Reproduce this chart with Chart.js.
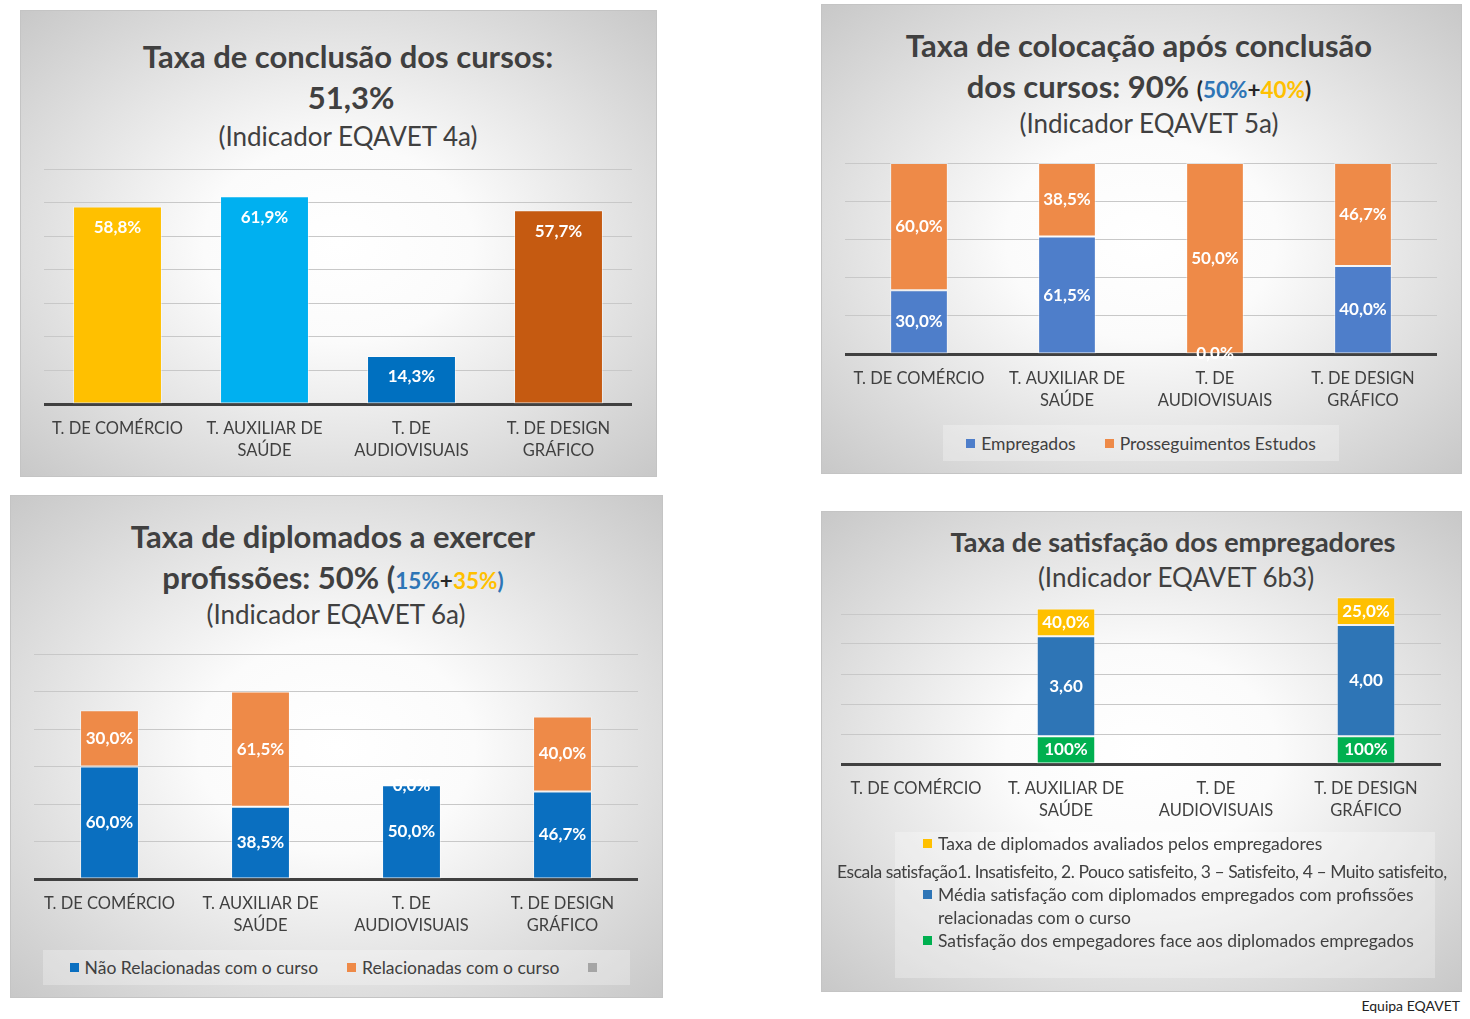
<!DOCTYPE html>
<html lang="pt">
<head>
<meta charset="utf-8">
<title>Indicadores EQAVET</title>
<script src="https://cdn.jsdelivr.net/npm/chart.js@4.4.1/dist/chart.umd.min.js"></script>
<style>
  html, body { margin: 0; padding: 0; background: #fff; }
  body { width: 1470px; height: 1019px; position: relative; overflow: hidden;
         font-family: Lato, "Open Sans", sans-serif; color: #404040; }
  .panel { position: absolute; box-sizing: border-box; border: 1px solid #c4c4c4;
           background: radial-gradient(ellipse farthest-corner at 50% 50%, #fff 0%, #fbfbfb 30%, #dedede 70%, #c8c8c8 100%); }
  .t { position: absolute; width: 800px; text-align: center; white-space: nowrap; line-height: 1; }
  .b { font-weight: 700; font-size: 31px; }
  .n { font-size: 26px; }
  .s { font-size: 22.5px; font-weight: 700; }
  .azul { color: #2E75B6; }
  .amarelo { color: #FFC000; }
  .preto { color: #262626; }
  canvas { position: absolute; }
  .legenda { position: absolute; box-sizing: border-box; background: rgba(255,255,255,0.28);
             font-size: 17.5px; line-height: 23px; color: #404040; }
  .linha { display: flex; justify-content: center; align-items: center; height: 100%; gap: 29px; }
  .item { display: flex; align-items: center; white-space: nowrap; }
  .qd { width: 9px; height: 9px; margin-right: 6px; flex: none; }
  .col .item { align-items: flex-start; white-space: normal; margin-left: 28px; width: 500px; }
  .col .item .qd { margin-top: 7px; }
  .col .item.nota { margin-left: -58px; width: auto; white-space: nowrap; margin-top: 5px; letter-spacing: -0.45px; }
  .rodape { position: absolute; right: 10px; top: 997px; font-size: 14px; color: #222; }
</style>
</head>
<body>

<div class="panel" style="left:20px; top:10px; width:637px; height:467px;"></div>
<div class="panel" style="left:821px; top:4px; width:641px; height:470px;"></div>
<div class="panel" style="left:10px; top:495px; width:653px; height:503px;"></div>
<div class="panel" style="left:821px; top:511px; width:641px; height:481px;"></div>

<div class="t b" style="left:-52px; top:41px;">Taxa de conclusão dos cursos:</div>
<div class="t b" style="left:-49px; top:82px;">51,3%</div>
<div class="t n" style="left:-52px; top:123px;">(Indicador EQAVET 4a)</div>

<div class="t b" style="left:739px; top:30px;">Taxa de colocação após conclusão</div>
<div class="t b" style="left:739px; top:71px;">dos cursos: 90% <span class="s preto">(<span class="azul">50%</span>+<span class="amarelo">40%</span>)</span></div>
<div class="t n" style="left:749px; top:110px;">(Indicador EQAVET 5a)</div>

<div class="t b" style="left:-67px; top:521px;">Taxa de diplomados a exercer</div>
<div class="t b" style="left:-67px; top:562px;">profissões: 50% (<span class="s azul">15%<span class="preto">+</span><span class="amarelo">35%</span>)</span></div>
<div class="t n" style="left:-64px; top:601px;">(Indicador EQAVET 6a)</div>

<div class="t b" style="left:773px; top:528px; font-size:27px;">Taxa de satisfação dos empregadores</div>
<div class="t n" style="left:776px; top:564px;">(Indicador EQAVET 6b3)</div>

<canvas id="c4a" width="588" height="310" style="left:44px; top:164px;"></canvas>
<canvas id="c5a" width="592" height="266" style="left:845px; top:158px;"></canvas>
<canvas id="c6a" width="604" height="300" style="left:34px; top:649px;"></canvas>
<canvas id="c6b3" width="600" height="245" style="left:841px; top:589px;"></canvas>

<div id="l5a" class="legenda" style="left:943px; top:425px; width:396px; height:36px;"></div>
<div id="l6a" class="legenda" style="left:43px; top:950px; width:587px; height:35px;"></div>
<div id="l6b3" class="legenda col" style="left:895px; top:832px; width:540px; height:146px;"></div>

<div class="rodape">Equipa EQAVET</div>

<script>
const cursos = [['T. DE COMÉRCIO'], ['T. AUXILIAR DE', 'SAÚDE'], ['T. DE', 'AUDIOVISUAIS'], ['T. DE DESIGN', 'GRÁFICO']];

// Indicador 4a
const conclusao = [58.8, 61.9, 14.3, 57.7];
const conclusaoCores = ['#FFC000', '#00B0F0', '#0070C0', '#C55A11'];

// Indicador 5a (grafico a 100%)
const empregados = [30.0, 61.5, 0.0, 40.0];
const prosseguimento = [60.0, 38.5, 50.0, 46.7];

// Indicador 6a
const naoRelacionadas = [60.0, 38.5, 50.0, 46.7];
const relacionadas = [30.0, 61.5, 0.0, 40.0];

// Indicador 6b3
const satisfacaoEmpregadores = [null, 1, null, 1];
const mediaSatisfacao = [null, 3.6, null, 4.0];
const avaliadosAltura = [null, 1, null, 1];
const avaliados = [null, 40.0, null, 25.0];
const escala = 'Escala satisfação1. Insatisfeito, 2. Pouco satisfeito, 3 – Satisfeito, 4 – Muito satisfeito,';

const pct1 = v => v.toFixed(1).replace('.', ',') + '%';
const dec2 = v => v.toFixed(2).replace('.', ',');
const pct0 = v => Math.round(v * 100) + '%';

const totalColocacao = empregados.map((v, i) => v + prosseguimento[i]);
const quota = arr => arr.map((v, i) => v / totalColocacao[i] * 100);

// rotulos de dados (sem plugin externo)
const rotulos = {
  id: 'rotulos',
  afterDatasetsDraw(chart) {
    const ctx = chart.ctx;
    ctx.save();
    ctx.font = 'bold 17px Lato';
    ctx.fillStyle = '#fff';
    ctx.textAlign = 'center';
    ctx.textBaseline = 'middle';
    chart.data.datasets.forEach((ds, d) => {
      if (!ds.rotulo) return;
      chart.getDatasetMeta(d).data.forEach((bar, i) => {
        const txt = ds.rotulo(i);
        if (txt == null) return;
        const y = ds.posicao === 'end' ? bar.y + 21 : (bar.y + bar.base) / 2;
        ctx.fillText(txt, bar.x, y);
      });
    });
    ctx.restore();
  }
};

function opcoes(max, yTicks, topo) {
  return {
    responsive: false,
    animation: false,
    layout: { autoPadding: false, padding: { top: topo || 5, left: 0, right: 0, bottom: 0 } },
    plugins: { legend: { display: false }, tooltip: { enabled: false } },
    scales: {
      x: {
        stacked: true,
        z: 1,
        grid: { display: false, drawTicks: false },
        border: { display: true, color: '#404040', width: 3 },
        ticks: { color: '#404040', font: { family: 'Lato', size: 16.5, lineHeight: 1.38 }, padding: 13, maxRotation: 0, autoSkip: false },
        afterFit(s) { s.height = 70; s.paddingLeft = 0; s.paddingRight = 0; }
      },
      y: {
        stacked: true,
        min: 0,
        max: max,
        ticks: Object.assign({ display: false }, yTicks),
        grid: { color: '#c8c8c8', drawTicks: false },
        border: { display: false },
        afterFit(s) { s.width = 0; }
      }
    }
  };
}

const barra = { borderWidth: 1, borderColor: 'rgba(255,255,255,0.45)', borderSkipped: false, categoryPercentage: 1, barPercentage: 0.39, clip: false };

new Chart(document.getElementById('c4a'), {
  type: 'bar',
  data: {
    labels: cursos,
    datasets: [Object.assign({}, barra, {
      label: 'Taxa de conclusão',
      data: conclusao,
      backgroundColor: conclusaoCores,
      barPercentage: 0.605,
      rotulo: i => pct1(conclusao[i]),
      posicao: 'end'
    })]
  },
  options: opcoes(70, { stepSize: 10 }),
  plugins: [rotulos]
});

const c5a = new Chart(document.getElementById('c5a'), {
  type: 'bar',
  data: {
    labels: cursos,
    datasets: [
      Object.assign({}, barra, { label: 'Empregados', data: quota(empregados), backgroundColor: '#4E7ECA', rotulo: i => pct1(empregados[i]) }),
      Object.assign({}, barra, { label: 'Prosseguimentos Estudos', data: quota(prosseguimento), backgroundColor: '#EE8A48', rotulo: i => pct1(prosseguimento[i]) })
    ]
  },
  options: opcoes(100, { stepSize: 20 }),
  plugins: [rotulos]
});

const c6a = new Chart(document.getElementById('c6a'), {
  type: 'bar',
  data: {
    labels: cursos,
    datasets: [
      Object.assign({}, barra, { label: 'Não Relacionadas com o curso', data: naoRelacionadas, backgroundColor: '#0A6FC0', rotulo: i => pct1(naoRelacionadas[i]) }),
      Object.assign({}, barra, { label: 'Relacionadas com o curso', data: relacionadas, backgroundColor: '#EE8A48', rotulo: i => pct1(relacionadas[i]) }),
      Object.assign({}, barra, { label: '', data: [null, null, null, null], backgroundColor: '#A5A5A5' })
    ]
  },
  options: opcoes(120, { stepSize: 20 }),
  plugins: [rotulos]
});

const c6b3 = new Chart(document.getElementById('c6b3'), {
  type: 'bar',
  data: {
    labels: cursos,
    datasets: [
      Object.assign({}, barra, { label: 'Satisfação dos empegadores face aos diplomados empregados', data: satisfacaoEmpregadores, backgroundColor: '#00B050',
        rotulo: i => satisfacaoEmpregadores[i] == null ? null : pct0(satisfacaoEmpregadores[i]) }),
      Object.assign({}, barra, { label: 'Média satisfação com diplomados empregados com profissões relacionadas com o curso', data: mediaSatisfacao, backgroundColor: '#2E75B6',
        rotulo: i => mediaSatisfacao[i] == null ? null : dec2(mediaSatisfacao[i]) }),
      Object.assign({}, barra, { label: escala, data: [null, null, null, null], backgroundColor: 'transparent', nota: true }),
      Object.assign({}, barra, { label: 'Taxa de diplomados avaliados pelos empregadores', data: avaliadosAltura, backgroundColor: '#FFC000',
        rotulo: i => avaliados[i] == null ? null : pct1(avaliados[i]) })
    ]
  },
  options: opcoes(5.4, { count: 6 }, 25),
  plugins: [rotulos]
});

// legendas em HTML a partir dos datasets
function legenda(id, chart, ordem) {
  const caixa = document.getElementById(id);
  const linha = document.createElement('div');
  linha.className = caixa.classList.contains('col') ? '' : 'linha';
  ordem.forEach(d => {
    const ds = chart.data.datasets[d];
    const item = document.createElement('div');
    item.className = 'item' + (ds.nota ? ' nota' : '');
    if (!ds.nota) {
      const q = document.createElement('span');
      q.className = 'qd';
      q.style.background = ds.backgroundColor;
      item.appendChild(q);
    }
    const txt = document.createElement('span');
    txt.textContent = ds.label;
    item.appendChild(txt);
    linha.appendChild(item);
  });
  caixa.appendChild(linha);
}

legenda('l5a', c5a, [0, 1]);
legenda('l6a', c6a, [0, 1, 2]);
legenda('l6b3', c6b3, [3, 2, 1, 0]);
</script>
</body>
</html>
